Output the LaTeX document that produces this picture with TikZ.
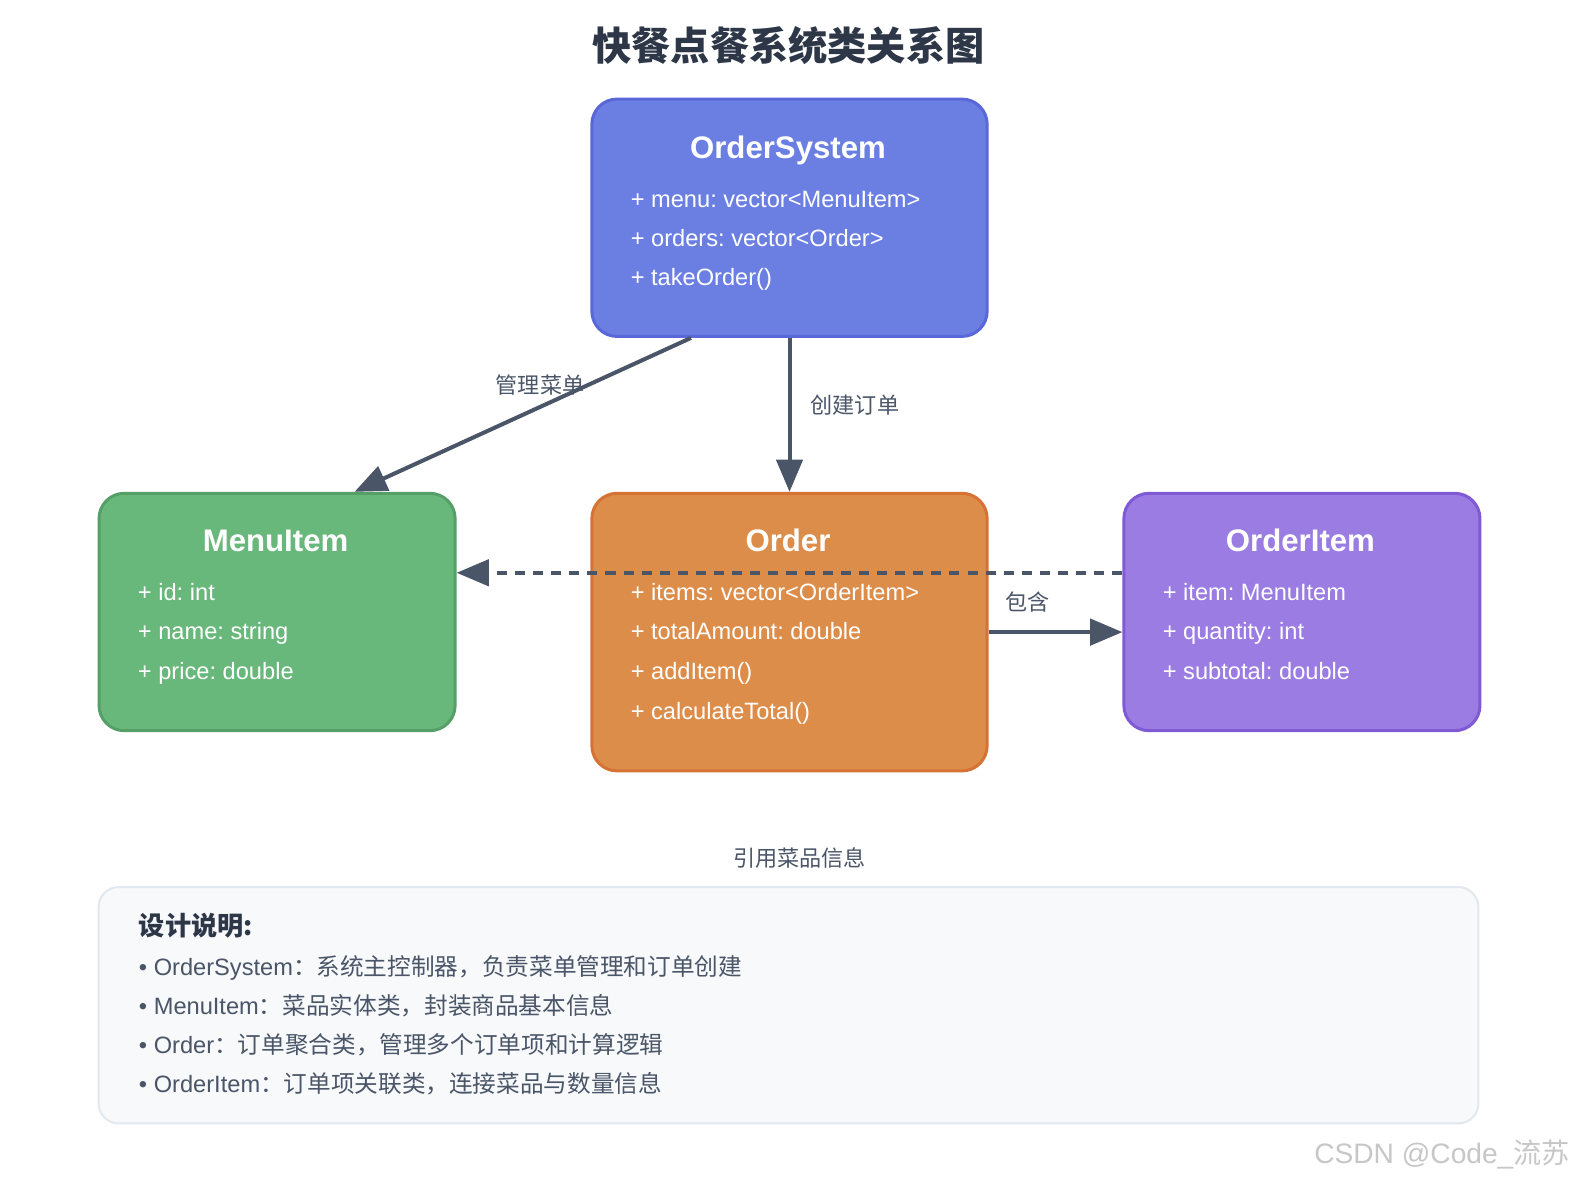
\documentclass[tikz,border=0pt]{standalone}
\usepackage{fontspec}
\setmainfont{Liberation Sans}
\newfontfamily\cjk{Noto Sans CJK SC}
\usetikzlibrary{arrows.meta}
\definecolor{osfill}{RGB}{107,127,227}
\definecolor{osdraw}{RGB}{90,103,216}
\definecolor{mifill}{RGB}{104,184,123}
\definecolor{midraw}{RGB}{86,160,104}
\definecolor{orfill}{RGB}{221,141,74}
\definecolor{ordraw}{RGB}{214,115,52}
\definecolor{oifill}{RGB}{154,124,226}
\definecolor{oidraw}{RGB}{128,90,213}
\definecolor{edge}{RGB}{74,85,104}
\definecolor{titlec}{RGB}{45,55,72}
\definecolor{notebg}{RGB}{247,249,251}
\definecolor{noteline}{RGB}{226,232,240}
\newcommand{\fs}[1]{\fontsize{#1}{#1}\selectfont\frenchspacing}
\begin{document}
\begin{tikzpicture}[x=1pt,y=-1pt,
  cls/.style={anchor=north west, rounded corners=25pt, line width=3pt, inner sep=0pt},
  clstitle/.style={text=white, font=\fs{31}\bfseries, inner sep=0pt, anchor=base},
  attr/.style={text=white, font=\fs{23.5}, anchor=base west, inner sep=0pt},
  lbl/.style={text=edge, font=\fs{22}\cjk, inner sep=0pt},
  arr/.style={draw=edge, line width=4pt, -{Triangle[length=32pt,width=26pt]}},
  noteitem/.style={text=edge, font=\fs{23.5}, anchor=base west, inner sep=0pt}]
\useasboundingbox[fill=white] (0,0) rectangle (1568,1175);

% title
\node[text=titlec, font=\fs{39}\cjk\bfseries] (title) at (784,45) {快餐点餐系统类关系图};

% class boxes
\node[cls, fill=osfill, draw=osdraw, minimum width=393pt, minimum height=236pt] (os) at (587,97) {};
\node[cls, fill=mifill, draw=midraw, minimum width=354pt, minimum height=236pt] (mi) at (97,489) {};
\node[cls, fill=orfill, draw=ordraw, minimum width=393pt, minimum height=276pt] (ord) at (587,489) {};
\node[cls, fill=oifill, draw=oidraw, minimum width=354pt, minimum height=236pt] (oi) at (1116,489) {};

% OrderSystem
\node[clstitle] (ost) at (783.5,157.5) {OrderSystem};
\node[attr] (os1) at (627,206) {+ menu: vector<MenuItem>};
\node[attr] (os2) at (627,245) {+ orders: vector<Order>};
\node[attr] (os3) at (627,284) {+ takeOrder()};

% MenuItem
\node[clstitle] (mit) at (274,548.5) {MenuItem};
\node[attr] (mi1) at (137,597) {+ id: int};
\node[attr] (mi2) at (137,636) {+ name: string};
\node[attr] (mi3) at (137,676) {+ price: double};

% Order
\node[clstitle] (ordt) at (783.5,548.5) {Order};
\node[attr] (or1) at (627,597) {+ items: vector<OrderItem>};
\node[attr] (or2) at (627,636) {+ totalAmount: double};
\node[attr] (or3) at (627,676) {+ addItem()};
\node[attr] (or4) at (627,715) {+ calculateTotal()};

% OrderItem
\node[clstitle] (oit) at (1293,548.5) {OrderItem};
\node[attr] (oi1) at (1156,597) {+ item: MenuItem};
\node[attr] (oi2) at (1156,636) {+ quantity: int};
\node[attr] (oi3) at (1156,676) {+ subtotal: double};

% connectors
\draw[arr] ([xshift=-98pt]os.south) -- ([xshift=77pt]mi.north);
\draw[arr] (os.south) -- (ord.north);
\draw[arr, dash pattern=on 10pt off 8pt] ([yshift=39pt]oi.west) -- ([yshift=39pt]mi.east);
\draw[arr] (ord.east) -- (ord.east -| oi.west);

% labels
\node[lbl] (l1) at (537,383) {管理菜单};
\node[lbl] (l2) at (850,403) {创建订单};
\node[lbl] (l3) at (1022,599) {包含};
\node[lbl] (l4) at (795,853) {引用菜品信息};

% note box
\node[anchor=north west, minimum width=1372pt, minimum height=235pt, rounded corners=20pt,
      fill=notebg, draw=noteline, line width=2pt, inner sep=0pt] (note) at (97,881) {};
\node[text=titlec, font=\fs{26}\cjk\bfseries, anchor=base west, inner sep=0pt] (nh) at (138,930) {设计说明:};
\node[noteitem] (n1) at (138,969.5) {• OrderSystem{\cjk ：系统主控制器，负责菜单管理和订单创建}};
\node[noteitem] (n2) at (138,1008.5) {• MenuItem{\cjk ：菜品实体类，封装商品基本信息}};
\node[noteitem] (n3) at (138,1047.5) {• Order{\cjk ：订单聚合类，管理多个订单项和计算逻辑}};
\node[noteitem] (n4) at (138,1086.5) {• OrderItem{\cjk ：订单项关联类，连接菜品与数量信息}};

% watermark
\node[anchor=base east, text=black!22, font=\fs{28}, inner sep=0pt] (wm) at (1561,1157) {CSDN @Code\_{\cjk 流苏}};
\end{tikzpicture}
\end{document}
